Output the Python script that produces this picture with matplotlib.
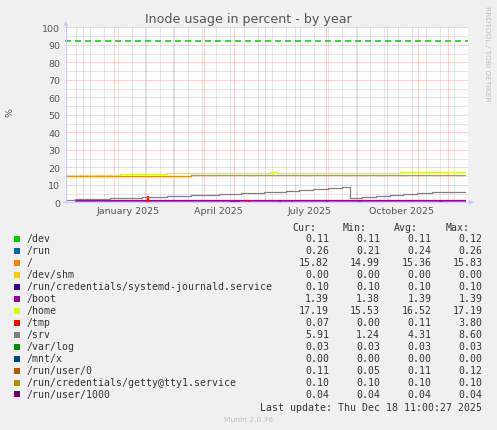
import pandas as pd
import matplotlib
matplotlib.use('Agg')
import matplotlib.pyplot as plt
from matplotlib.patches import Rectangle, Polygon

plt.rcParams['lines.scale_dashes'] = False

W, H = 497, 431

# legend table
labels = ['/dev', '/run', '/', '/dev/shm', '/run/credentials/systemd-journald.service',
          '/boot', '/home', '/tmp', '/srv', '/var/log', '/mnt/x', '/run/user/0',
          '/run/credentials/getty@tty1.service', '/run/user/1000']
colors = ['#00cc00', '#0066b3', '#ff8000', '#ffcc00', '#330099', '#990099', '#ccff00',
          '#ff0000', '#808080', '#008f00', '#00487d', '#b35a00', '#b38f00', '#6b006b']
cur = [0.11, 0.26, 15.82, 0.00, 0.10, 1.39, 17.19, 0.07, 5.91, 0.03, 0.00, 0.11, 0.10, 0.04]
mins = [0.11, 0.21, 14.99, 0.00, 0.10, 1.38, 15.53, 0.00, 1.24, 0.03, 0.00, 0.05, 0.10, 0.04]
avgs = [0.11, 0.24, 15.36, 0.00, 0.10, 1.39, 16.52, 0.11, 4.31, 0.03, 0.00, 0.11, 0.10, 0.04]
maxs = [0.12, 0.26, 15.83, 0.00, 0.10, 1.39, 17.19, 3.80, 8.60, 0.03, 0.00, 0.12, 0.10, 0.04]

# step series (date of change, new value)
home_dates = ['2024-11-14', '2025-01-07', '2025-02-23', '2025-06-06', '2025-06-13', '2025-10-14', '2025-12-18']
home_vals = [15.53, 16.2, 16.7, 17.19, 16.7, 17.19, 17.19]

root_dates = ['2024-11-14', '2025-03-19', '2025-10-14', '2025-12-18']
root_vals = [14.99, 15.5, 15.82, 15.82]

srv_dates = ['2024-11-14', '2024-11-23', '2024-12-28', '2025-01-29', '2025-02-23', '2025-03-19',
             '2025-04-16', '2025-05-08', '2025-05-31', '2025-06-22', '2025-07-05', '2025-07-19',
             '2025-08-03', '2025-08-17', '2025-08-25', '2025-09-06', '2025-09-20', '2025-10-04',
             '2025-10-17', '2025-10-31', '2025-11-15', '2025-12-18']
srv_vals = [1.24, 1.8, 2.4, 2.9, 3.4, 4.0, 4.6, 5.2, 5.8, 6.4, 6.9, 7.4, 8.0, 8.6, 2.3, 2.9,
            3.4, 4.0, 4.6, 5.1, 5.8, 5.8]

tmp_dates = ['2024-11-23', '2025-02-02', '2025-02-03', '2025-02-04', '2025-04-27', '2025-05-06',
             '2025-05-13', '2025-05-15', '2025-06-15', '2025-06-16', '2025-06-27', '2025-06-28',
             '2025-08-01', '2025-08-02', '2025-09-03', '2025-09-04', '2025-11-22', '2025-11-25',
             '2025-12-18']
tmp_vals = [0.07, 1.6, 3.8, 0.07, 0.8, 0.07, 1.6, 0.07, 1.0, 0.07, 1.0, 0.07, 1.0, 0.07,
            1.0, 0.07, 1.0, 0.07, 0.07]

flat_start, end = '2024-11-23', '2025-12-18'
warning = 92

fig = plt.figure(figsize=(W / 100, H / 100), dpi=100, facecolor='#f0f0f0')
ax = fig.add_axes([65.3 / W, 1 - 203.3 / H, 402.2 / W, 175 / H])
ax.set_facecolor('white')
for s in ax.spines.values():
    s.set_visible(False)

t0 = pd.Timestamp('2024-11-13')
ax.set_xlim(t0, t0 + pd.Timedelta(days=402.2))
ax.set_ylim(0, 100)

# grid
dot = (0, (0.72, 0.72))
for v in range(5, 100, 10):
    ax.axhline(v, color='#cdcdcd', lw=0.72, ls=dot, zorder=1)
for d in pd.date_range('2024-11-24', '2025-12-18', freq='14D'):
    ax.axvline(d, color='#cdcdcd', lw=0.72, ls=dot, zorder=1)
for v in range(0, 101, 10):
    ax.axhline(v, color='#f0aaaa', lw=0.72, ls=dot, zorder=1)
for d in pd.date_range('2024-12-01', '2025-12-01', freq='MS'):
    ax.axvline(d, color='#f0aaaa', lw=0.72, ls=dot, zorder=1)

# series, in munin drawing order
lw = 0.9
series = {
    '/': (root_dates, root_vals),
    '/boot': ([flat_start, end], [1.39, 1.39]),
    '/home': (home_dates, home_vals),
    '/tmp': (tmp_dates, tmp_vals),
    '/srv': (srv_dates, srv_vals),
}
for i, name in enumerate(labels):
    if name in series:
        d, v = series[name]
    else:
        d, v = [flat_start, end], [cur[i], cur[i]]
    ax.step(pd.to_datetime(d), v, where='post', color=colors[i], lw=lw, zorder=3)

ax.axhline(warning, color='#00cc00', lw=1.1, ls=(0, (4.3, 2.9)), zorder=4)

ax.set_yticks(range(0, 101, 10))
ticks = pd.to_datetime(['2025-01-15', '2025-04-15', '2025-07-15', '2025-10-15'])
ax.set_xticks(ticks)
ax.set_xticklabels(['January 2025', 'April 2025', 'July 2025', 'October 2025'])
ax.tick_params(axis='both', length=0, labelsize=6.8, colors='#555555')
ax.tick_params(axis='y', pad=3.6)
ax.tick_params(axis='x', pad=3.0)

# axis lines and arrows in pixel space
ov = fig.add_axes([0, 0, 1, 1])
ov.set_xlim(0, W)
ov.set_ylim(H, 0)
ov.axis('off')
ov.patch.set_visible(False)
axc = '#c8c8f8'
ov.plot([65.8, 65.8], [203.3, 24], color=axc, lw=0.8)
ov.plot([63, 470], [203.3, 203.3], color=axc, lw=0.8, alpha=0.8)
ov.add_patch(Polygon([(63.3, 26.7), (68.3, 26.7), (65.8, 21.7)], color=axc, lw=0))
ov.add_patch(Polygon([(469, 200.8), (469, 205.8), (474, 203.3)], color=axc, lw=0))

def ft(x, y, s, **kw):
    fig.text(x / W, 1 - y / H, s, **kw)

ft(248, 19.3, 'Inode usage in percent - by year', ha='center', va='center',
   fontsize=9.1, color='#555555')
ft(10, 113, '%', ha='center', va='center', rotation=90, fontsize=6.8, color='#555555')
ft(487.3, 53.5, 'RRDTOOL / TOBI OETIKER', ha='center', va='center', rotation=270,
   fontsize=5.4, color='#c0c0c0')

mono = dict(family='DejaVu Sans Mono', fontsize=7.15, color='#333333', va='center')
for x, h in zip([316, 367, 418, 470], ['Cur:', 'Min:', 'Avg:', 'Max:']):
    ft(x, 228.3, h, ha='right', **mono)
for i, name in enumerate(labels):
    y = 239.3 + 12 * i
    ov.add_patch(Rectangle((14, y - 2.8), 6, 6, color=colors[i], lw=0))
    ft(26.7, y, name, ha='left', **mono)
    for x, col in zip([329, 380, 431.3, 482.3], [cur, mins, avgs, maxs]):
        ft(x, y, f'{col[i]:.2f}', ha='right', **mono)
ft(482.3, 407.7, 'Last update: Thu Dec 18 11:00:27 2025', ha='right', **mono)
ft(248, 419.7, 'Munin 2.0.76', ha='center', va='center', fontsize=5.4, color='#c0c0c0')

fig.savefig('out.png', dpi=100, facecolor=fig.get_facecolor())
